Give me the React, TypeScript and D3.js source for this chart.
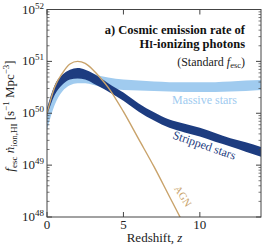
import React from 'react';
import * as d3 from 'd3';

// redshift grid and log10 of the emission rate
const redshifts = [0, 0.5, 1, 1.5, 2, 2.5, 3, 3.5, 4, 5, 6, 7, 8, 9, 10, 11, 12, 13, 14];
const massiveLow = [49.68, 50.16, 50.42, 50.54, 50.58, 50.58, 50.55, 50.51, 50.48, 50.45, 50.44, 50.43, 50.42, 50.41, 50.41, 50.41, 50.42, 50.43, 50.45];
const massiveHigh = [50.05, 50.5, 50.7, 50.8, 50.83, 50.8, 50.76, 50.72, 50.69, 50.65, 50.63, 50.61, 50.6, 50.6, 50.6, 50.6, 50.61, 50.63, 50.64];
const strippedLow = [49.95, 50.35, 50.55, 50.65, 50.67, 50.65, 50.58, 50.5, 50.42, 50.24, 50.03, 49.86, 49.72, 49.63, 49.55, 49.45, 49.36, 49.26, 49.16];
const strippedHigh = [50.1, 50.54, 50.74, 50.84, 50.87, 50.84, 50.77, 50.68, 50.58, 50.4, 50.19, 50.02, 49.88, 49.8, 49.72, 49.62, 49.52, 49.44, 49.35];
const agnZ = [0, 0.5, 1, 1.5, 2, 2.5, 3, 3.5, 4, 5, 6, 7, 8, 9];
const agnLog = [50.0, 50.5, 50.77, 50.95, 51.0, 50.96, 50.84, 50.68, 50.5, 50.03, 49.5, 48.97, 48.4, 47.83];
const yTicks = [48, 49, 50, 51, 52];
const xTicks = [0, 5, 10];

const W = 266, H = 250;
const m = { left: 47, right: 261, top: 9.5, bottom: 217 };
const FONT = 'Times New Roman';

export default function App() {
  const x = d3.scaleLinear().domain([0, 14]).range([m.left, m.right]);
  const y = d3.scaleLinear().domain([48, 52]).range([m.bottom, m.top]);

  const band = (lo: number[], hi: number[]) =>
    d3.area<number>()
      .x((_, i) => x(redshifts[i]))
      .y0((_, i) => y(lo[i]))
      .y1((_, i) => y(hi[i]))
      .curve(d3.curveMonotoneX)(redshifts.map((_, i) => i)) || '';

  const agnPath = d3.line<number>()
    .x(i => x(agnZ[i]))
    .y(i => y(agnLog[i]))
    .curve(d3.curveMonotoneX)(agnZ.map((_, i) => i)) || '';

  const minor: number[] = [];
  for (let d = 48; d < 52; d++) for (let k = 2; k <= 9; k++) minor.push(d + Math.log10(k));

  const tickCol = '#444';

  return (
    <svg width={W} height={H} fontFamily={FONT} style={{ position: 'absolute', left: 0, top: 0, background: '#fff' }}>
      <style>{`text, tspan { font-family: 'Liberation Serif', 'Times New Roman', serif; }`}</style>
      <defs>
        <clipPath id="plot">
          <rect x={m.left} y={m.top} width={m.right - m.left} height={m.bottom - m.top} />
        </clipPath>
      </defs>
      <g clipPath="url(#plot)">
        <path d={band(massiveLow, massiveHigh)} fill="#a0cbef" />
        <path d={band(strippedLow, strippedHigh)} fill="#1d3c80" />
        <path d={agnPath} fill="none" stroke="#c9a36b" strokeWidth={1.4} />
      </g>

      {/* frame */}
      <rect x={m.left} y={m.top} width={m.right - m.left} height={m.bottom - m.top} fill="none" stroke={tickCol} strokeWidth={1} />

      {/* y ticks */}
      {yTicks.map(t => (
        <g key={'y' + t}>
          <line x1={m.left} x2={m.left + 5} y1={y(t)} y2={y(t)} stroke={tickCol} />
          <line x1={m.right} x2={m.right - 5} y1={y(t)} y2={y(t)} stroke={tickCol} />
          <text x={m.left - 3} y={y(t) + 4} textAnchor="end" fontSize={13} fill="#222">
            10<tspan fontSize={9} dy={-5}>{t}</tspan>
          </text>
        </g>
      ))}
      {minor.map(t => (
        <g key={'m' + t}>
          <line x1={m.left} x2={m.left + 2.5} y1={y(t)} y2={y(t)} stroke={tickCol} strokeWidth={0.7} />
          <line x1={m.right} x2={m.right - 2.5} y1={y(t)} y2={y(t)} stroke={tickCol} strokeWidth={0.7} />
        </g>
      ))}

      {/* x ticks */}
      {xTicks.map(t => (
        <g key={'x' + t}>
          <line x1={x(t)} x2={x(t)} y1={m.bottom} y2={m.bottom - 5} stroke={tickCol} />
          <line x1={x(t)} x2={x(t)} y1={m.top} y2={m.top + 5} stroke={tickCol} />
          <text x={x(t)} y={m.bottom + 12} textAnchor="middle" fontSize={13} fill="#222">{t}</text>
        </g>
      ))}
      <text x={(m.left + m.right) / 2 + 0.5} y={242} textAnchor="middle" fontSize={13} fill="#222">
        Redshift, <tspan fontStyle="italic">z</tspan>
      </text>

      {/* y label */}
      <text transform="translate(14,116) rotate(-90)" textAnchor="middle" fontSize={13} fill="#222">
        <tspan fontStyle="italic">f</tspan>
        <tspan fontSize={9} dy={3}>esc</tspan>
        <tspan dy={-3}>{'  '}</tspan>
        <tspan fontStyle="italic">{'\u1E45'}</tspan>
        <tspan fontSize={9} dy={3}>ion,HI</tspan>
        <tspan dy={-3}>{'  [s'}</tspan>
        <tspan fontSize={9} dy={-5}>{'\u22121'}</tspan>
        <tspan dy={5}>{' Mpc'}</tspan>
        <tspan fontSize={9} dy={-5}>{'\u22123'}</tspan>
        <tspan dy={5}>]</tspan>
      </text>

      {/* title */}
      <text x={245} y={34} textAnchor="end" fontSize={12.5} fontWeight="bold" fill="#111">a) Cosmic emission rate of</text>
      <text x={245} y={47.5} textAnchor="end" fontSize={12.5} fontWeight="bold" fill="#111">
        H<tspan fontSize={9.5}>I</tspan>-ionizing photons
      </text>
      <text x={245} y={66} textAnchor="end" fontSize={12} fill="#222">
        (Standard <tspan fontStyle="italic">f</tspan><tspan fontSize={8.5} dy={2}>esc</tspan><tspan dy={-2}>)</tspan>
      </text>

      {/* series labels */}
      <text x={237} y={104} textAnchor="end" fontSize={12} fill="#a0cbef">Massive stars</text>
      <text transform="translate(203,149) rotate(19)" textAnchor="middle" fontSize={12} fill="#1d3c80">Stripped stars</text>
      <text transform="translate(180,198) rotate(57)" textAnchor="middle" fontSize={10.5} fill="#c9a36b">AGN</text>
    </svg>
  );
}
